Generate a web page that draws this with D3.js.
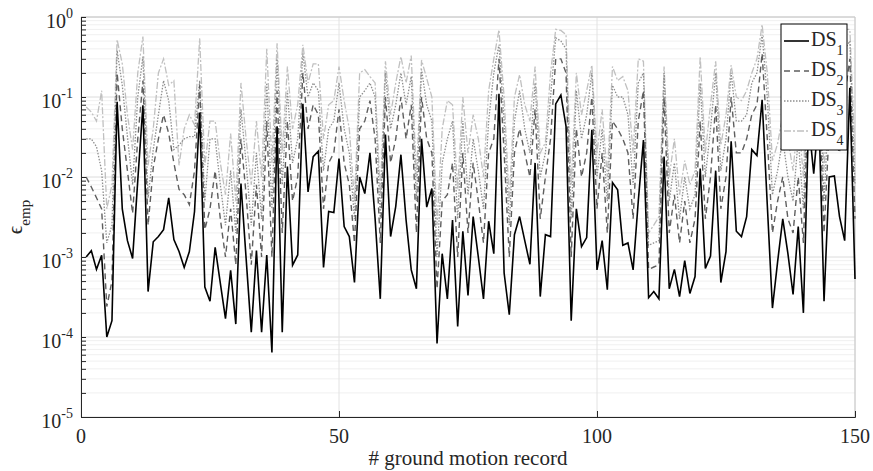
<!DOCTYPE html>
<html>
<head>
<meta charset="utf-8">
<script src="https://cdn.jsdelivr.net/npm/d3@7"></script>
<style>
  body { margin: 0; background: #fff; }
  svg text { fill: #262626; }
</style>
</head>
<body>
<svg id="chart" width="873" height="471" font-family="'Liberation Serif', 'Times New Roman', Times, serif"></svg>
<script>
// ground motion record index
const records = d3.range(1, 151);

const ds1 = [1.0e-3,1.2e-3,7e-4,1.05e-3,1.0e-4,1.6e-4,0.087,4e-3,1.6e-3,9.6e-4,
  9e-3,0.079,3.7e-4,1.55e-3,1.8e-3,2.2e-3,5.5e-3,1.65e-3,1.17e-3,7.4e-4,
  1.17e-3,3.7e-3,0.064,4.2e-4,2.8e-4,1.32e-3,4.7e-4,1.7e-4,6.8e-4,1.45e-4,
  8.3e-3,9.6e-4,1.15e-4,1.2e-3,1.15e-4,1.06e-3,6.4e-5,0.043,1.15e-4,0.0135,
  7.9e-4,1.06e-3,0.082,6.5e-3,0.018,0.021,7.4e-4,3.7e-3,3.6e-3,0.017,
  2.4e-3,1.8e-3,4.8e-4,0.01,6.2e-3,0.02,3e-3,3e-4,0.034,1.8e-3,
  4.3e-3,0.019,2.9e-3,6.9e-4,4e-4,0.03,4.2e-3,7.2e-3,8.3e-5,1.1e-3,
  3e-4,2.9e-3,1.35e-4,2.1e-3,3.3e-4,3.2e-3,1e-3,3e-4,2.8e-3,1.1e-3,
  0.11,6.3e-4,1.9e-4,1.9e-3,3.2e-3,1.6e-3,8.1e-4,0.015,3.2e-4,1.9e-3,
  1.8e-3,0.082,0.106,0.043,1.6e-4,4e-3,1.35e-3,1.75e-3,0.039,6.9e-4,
  1.6e-3,3.9e-4,8.5e-3,6.9e-3,1.4e-3,1.5e-3,6.9e-4,5e-3,0.029,3.1e-4,
  3.7e-4,3e-4,0.018,4e-4,7e-4,3.2e-4,9e-4,3.5e-4,5.7e-4,0.0128,
  7.2e-4,1.03e-3,0.012,4.8e-4,1.17e-3,0.028,2.1e-3,1.8e-3,3.2e-3,0.022,
  0.0185,0.092,4.5e-3,2.3e-4,8.7e-4,3e-3,1.1e-3,3.4e-4,2.4e-3,2e-4,
  0.05,0.011,0.06,2.8e-4,0.01,0.0103,3.2e-3,1.6e-3,0.13,5.3e-4];

const ds2 = [0.01,7.5e-3,5.5e-3,4e-3,2.4e-4,5e-4,0.2,0.04,0.012,3.5e-3,
  0.03,0.16,2.5e-3,0.013,0.03,0.06,0.035,0.015,7e-3,6e-3,
  4.5e-3,0.012,0.14,2.2e-3,4e-3,0.012,3e-3,1e-3,4e-3,8e-4,
  0.03,6e-3,8e-4,8e-3,1e-3,0.05,1e-3,0.12,2e-3,0.05,
  5e-3,0.01,0.2,0.04,0.08,0.06,4e-3,0.015,0.02,0.07,
  0.015,8e-3,1.5e-3,0.04,0.05,0.09,0.03,1.5e-3,0.1,0.015,
  0.03,0.1,0.03,0.08,2e-3,0.1,0.03,0.02,4e-4,5e-3,
  6e-3,0.015,1e-3,0.02,2e-3,0.015,5e-3,1.5e-3,0.02,0.03,
  0.3,0.02,1e-3,0.02,0.04,0.02,0.01,0.07,3e-3,0.01,
  0.03,0.3,0.3,0.2,1e-3,0.04,0.01,0.02,0.1,4e-3,
  0.02,2e-3,0.05,0.04,0.03,0.02,3e-3,0.05,0.12,7e-4,
  7.5e-4,8e-4,0.1,2e-3,6e-3,1.5e-3,5e-3,1.5e-3,3e-3,0.05,
  3e-3,0.01,0.08,4e-3,0.01,0.1,0.02,0.02,0.03,0.06,
  0.08,0.35,0.03,2e-3,5e-3,0.01,3e-3,2e-3,0.01,1.5e-3,
  0.15,0.03,0.15,2e-3,0.04,0.03,0.02,0.1,0.3,3e-3];

const ds3 = [0.03,0.03,0.024,0.012,1.5e-3,2.5e-3,0.38,0.14,0.032,8e-3,
  0.1,0.32,5.5e-3,0.022,0.06,0.16,0.09,0.022,0.025,0.03,
  0.032,0.032,0.16,5e-3,0.03,0.03,8e-3,2.5e-3,0.012,2e-3,
  0.07,0.015,2.5e-3,0.02,3e-3,0.15,4e-3,0.3,8e-3,0.12,
  0.015,0.03,0.35,0.1,0.15,0.12,0.012,0.04,0.05,0.15,
  0.04,0.02,3e-3,0.1,0.12,0.15,0.1,3e-3,0.2,0.04,
  0.08,0.2,0.08,0.18,5e-3,0.22,0.08,0.05,1e-3,0.015,
  0.03,0.05,3e-3,0.05,6e-3,0.03,0.012,4e-3,0.05,0.2,
  0.45,0.05,2.5e-3,0.05,0.12,0.04,0.02,0.15,0.01,0.02,
  0.1,0.55,0.5,0.4,3e-3,0.12,0.03,0.06,0.2,0.01,
  0.04,5e-3,0.14,0.1,0.1,0.06,8e-3,0.15,0.2,1.4e-3,
  1.5e-3,1.6e-3,0.2,5e-3,0.015,3e-3,0.01,4e-3,6e-3,0.15,
  0.01,0.04,0.2,0.012,0.03,0.2,0.05,0.05,0.06,0.15,
  0.2,0.6,0.1,6e-3,0.012,0.03,0.01,5e-3,0.03,4e-3,
  0.3,0.08,0.3,5e-3,0.1,0.08,0.05,0.4,0.5,8e-3];

const ds4 = [0.075,0.065,0.05,0.12,4e-3,8e-3,0.52,0.26,0.06,0.022,
  0.2,0.57,0.014,0.04,0.2,0.3,0.14,0.16,0.014,0.04,
  0.06,0.045,0.54,0.014,0.05,0.05,0.015,6e-3,0.035,5e-3,
  0.15,0.03,8e-3,0.05,0.01,0.4,0.015,0.47,0.02,0.24,
  0.04,0.08,0.45,0.15,0.26,0.26,0.03,0.08,0.09,0.24,
  0.09,0.04,5e-3,0.2,0.22,0.18,0.15,6e-3,0.28,0.06,
  0.15,0.32,0.15,0.33,0.01,0.29,0.17,0.1,2.5e-3,0.04,
  0.09,0.08,7e-3,0.1,0.02,0.06,0.03,0.01,0.12,0.3,
  0.69,0.1,5e-3,0.1,0.19,0.08,0.05,0.24,0.02,0.027,
  0.2,0.7,0.68,0.6,8e-3,0.2,0.06,0.12,0.25,0.02,
  0.07,0.01,0.24,0.16,0.18,0.12,0.02,0.3,0.28,2e-3,
  2.5e-3,3.2e-3,0.24,0.01,0.03,6e-3,0.016,8e-3,0.012,0.32,
  0.02,0.08,0.28,0.025,0.06,0.25,0.1,0.09,0.12,0.2,
  0.3,0.8,0.2,0.016,0.026,0.06,0.03,0.012,0.06,0.01,
  0.5,0.15,0.5,0.012,0.2,0.15,0.1,0.7,0.7,0.02];

const seriesNames = ["1", "2", "3", "4"];
const xTicks = [0, 50, 100, 150];
const yExponents = [0, -1, -2, -3, -4, -5];

const margin = {top: 17, right: 18, bottom: 54, left: 81};
const width = 873 - margin.left - margin.right;
const height = 471 - margin.top - margin.bottom;

const svg = d3.select("#chart");
const g = svg.append("g").attr("transform", `translate(${margin.left},${margin.top})`);

const x = d3.scaleLinear().domain([0, 150]).range([0, width]);
const y = d3.scaleLog().domain([1e-5, 1]).range([height, 0]);

// minor grid
let minor = [];
yExponents.slice(0, -1).forEach(e => {
  for (let k = 2; k <= 9; k++) minor.push(k * Math.pow(10, e - 1));
});
g.selectAll(".minor").data(minor).enter().append("line")
  .attr("x1", 0).attr("x2", width)
  .attr("y1", d => y(d)).attr("y2", d => y(d))
  .attr("stroke", "#f0f0f0").attr("stroke-width", 1);

// major grid
g.selectAll(".major").data(yExponents.map(e => Math.pow(10, e))).enter().append("line")
  .attr("x1", 0).attr("x2", width)
  .attr("y1", d => y(d)).attr("y2", d => y(d))
  .attr("stroke", "#dcdcdc").attr("stroke-width", 1);
g.selectAll(".vgrid").data(xTicks).enter().append("line")
  .attr("x1", d => x(d)).attr("x2", d => x(d))
  .attr("y1", 0).attr("y2", height)
  .attr("stroke", "#e2e2e2").attr("stroke-width", 1);

// box top/right
g.append("line").attr("x1", 0).attr("x2", width).attr("y1", 0).attr("y2", 0)
  .attr("stroke", "#c8c8c8");
g.append("line").attr("x1", width).attr("x2", width).attr("y1", 0).attr("y2", height)
  .attr("stroke", "#c8c8c8");

// lines
const styles = [
  {data: ds4, color: "#c0c0c0", dash: "7,2,2,2", w: 1.3},
  {data: ds3, color: "#8e8e8e", dash: "1.5,1.5", w: 1.3},
  {data: ds2, color: "#5e5e5e", dash: "6,4", w: 1.4},
  {data: ds1, color: "#000000", dash: null, w: 1.6}
];
const line = d3.line().x((d, i) => x(records[i])).y(d => y(d));
styles.forEach(s => {
  g.append("path").datum(s.data)
    .attr("fill", "none")
    .attr("stroke", s.color)
    .attr("stroke-width", s.w)
    .attr("stroke-dasharray", s.dash)
    .attr("d", line);
});

// axes
const yMajor = yExponents.map(e => Math.pow(10, e));
const yAxis = g.append("g")
  .call(d3.axisLeft(y).tickValues(yMajor.concat(minor)).tickSize(-5).tickFormat(""));
yAxis.select(".domain").attr("stroke", "#262626");
yAxis.selectAll(".tick line").attr("stroke", "#262626");

const xAxis = g.append("g").attr("transform", `translate(0,${height})`)
  .call(d3.axisBottom(x).tickValues(xTicks).tickSize(-6).tickFormat(""));
xAxis.select(".domain").attr("stroke", "#262626");
xAxis.selectAll(".tick line").attr("stroke", "#262626");

// y labels 10^n
yExponents.forEach(e => {
  const t = g.append("text")
    .attr("x", -8).attr("y", y(Math.pow(10, e)) + 11)
    .attr("text-anchor", "end").style("font-size", "20px");
  t.append("tspan").text("10");
  t.append("tspan").attr("dy", -10).style("font-size", "14px").text(e === 0 ? "0" : "-" + Math.abs(e));
});

// x labels
xTicks.forEach(v => {
  g.append("text").attr("x", x(v)).attr("y", height + 26)
    .attr("text-anchor", "middle").style("font-size", "20px").text(v);
});

svg.append("text").attr("x", margin.left + width / 2).attr("y", 465)
  .attr("text-anchor", "middle").style("font-size", "21px").text("# ground motion record");

const yl = svg.append("text")
  .attr("transform", `translate(22,${margin.top + height / 2}) rotate(-90)`)
  .attr("text-anchor", "middle");
yl.append("tspan").style("font-size", "21px").text("\u03f5");
yl.append("tspan").attr("dy", 8).style("font-size", "15px").text("emp");

// legend
const lg = svg.append("g").attr("transform", "translate(781,24)");
lg.append("rect").attr("width", 66).attr("height", 126)
  .attr("fill", "#fff").attr("stroke", "#000").attr("stroke-width", 1);
const legendStyles = styles.slice().reverse();
seriesNames.forEach((n, i) => {
  const cy = 17 + i * 30;
  lg.append("line").attr("x1", 3).attr("x2", 28).attr("y1", cy).attr("y2", cy)
    .attr("stroke", legendStyles[i].color)
    .attr("stroke-width", legendStyles[i].w)
    .attr("stroke-dasharray", legendStyles[i].dash);
  const t = lg.append("text").attr("x", 30).attr("y", cy + 5).style("font-size", "20px");
  t.append("tspan").text("DS");
  t.append("tspan").attr("dy", 9).style("font-size", "14px").text(n);
});
</script>
</body>
</html>
